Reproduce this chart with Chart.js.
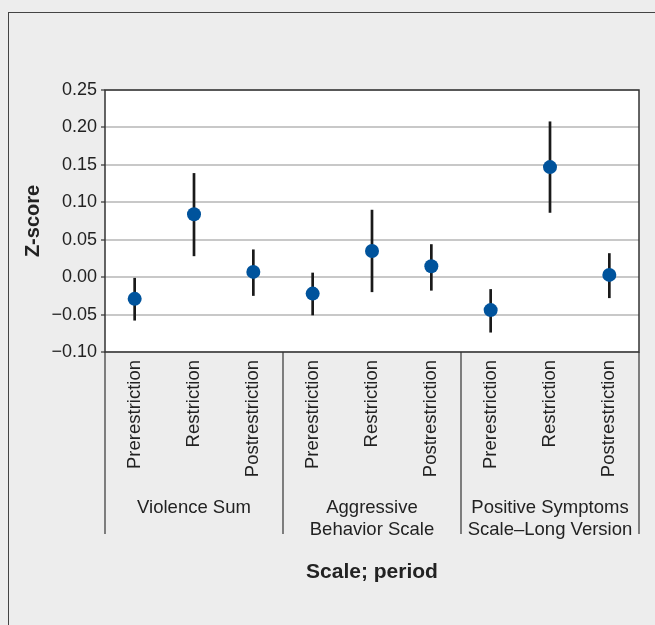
<!DOCTYPE html>
<html lang="en">
<head>
    <meta charset="UTF-8">
    <title>Z-score by scale and period</title>
    <script src="https://cdn.jsdelivr.net/npm/chart.js"></script>
    <style>
        * {
            margin: 0;
            padding: 0;
            box-sizing: border-box;
        }

        body {
            width: 655px;
            height: 625px;
            overflow: hidden;
            background: #ededed;
            font-family: 'Liberation Sans', Arial, sans-serif;
        }

        .frame {
            position: absolute;
            left: 8px;
            top: 12px;
            width: 660px;
            height: 620px;
            border-left: 1px solid #444;
            border-top: 1px solid #444;
        }

        .chart-box {
            position: absolute;
            left: 0;
            top: 0;
            width: 655px;
            height: 625px;
        }
    </style>
</head>
<body>
    <div class="frame"></div>
    <div class="chart-box">
        <canvas id="zChart" width="655" height="625"></canvas>
    </div>

    <script>
        // Data
        const periods = ['Prerestriction', 'Restriction', 'Postrestriction',
                         'Prerestriction', 'Restriction', 'Postrestriction',
                         'Prerestriction', 'Restriction', 'Postrestriction'];
        const scaleGroups = [
            ['Violence Sum'],
            ['Aggressive', 'Behavior Scale'],
            ['Positive Symptoms', 'Scale\u2013Long Version']
        ];
        const zMeans = [-0.029, 0.084, 0.007, -0.022, 0.035, 0.0145, -0.044, 0.147, 0.003];
        const zLower = [-0.058, 0.028, -0.025, -0.051, -0.020, -0.018, -0.074, 0.086, -0.028];
        const zUpper = [-0.001, 0.139, 0.037, 0.006, 0.090, 0.044, -0.016, 0.208, 0.032];
        const yTicks = [0.25, 0.20, 0.15, 0.10, 0.05, 0.00, -0.05, -0.10];

        const textColor = '#222';
        const fontFamily = "'Liberation Sans', Arial, sans-serif";

        // white plot area + frame, error bars, group dividers and names
        const decorPlugin = {
            id: 'decor',
            beforeDraw(chart) {
                const { ctx, chartArea: a } = chart;
                ctx.save();
                ctx.fillStyle = '#fff';
                ctx.fillRect(a.left, a.top, a.right - a.left, a.bottom - a.top);
                ctx.restore();
            },
            beforeDatasetsDraw(chart) {
                const { ctx, chartArea: a, scales: { x, y } } = chart;
                ctx.save();
                // plot frame
                ctx.strokeStyle = '#333';
                ctx.lineWidth = 1.5;
                ctx.strokeRect(a.left, a.top, a.right - a.left, a.bottom - a.top);

                // error bars
                ctx.strokeStyle = '#1a1a1a';
                ctx.lineWidth = 2.7;
                zMeans.forEach((m, i) => {
                    const px = x.getPixelForValue(i);
                    ctx.beginPath();
                    ctx.moveTo(px, y.getPixelForValue(zLower[i]));
                    ctx.lineTo(px, y.getPixelForValue(zUpper[i]));
                    ctx.stroke();
                });

                // group dividers below the axis
                ctx.strokeStyle = '#333';
                ctx.lineWidth = 1.2;
                [-0.5, 2.5, 5.5, 8.5].forEach(v => {
                    const px = Math.round(x.getPixelForValue(v));
                    ctx.beginPath();
                    ctx.moveTo(px, a.bottom);
                    ctx.lineTo(px, 534);
                    ctx.stroke();
                });

                // group names
                ctx.fillStyle = textColor;
                ctx.font = '18.5px ' + fontFamily;
                ctx.textAlign = 'center';
                ctx.textBaseline = 'alphabetic';
                scaleGroups.forEach((lines, g) => {
                    const cx = x.getPixelForValue(g * 3 + 1);
                    lines.forEach((t, k) => ctx.fillText(t, cx, 513 + k * 22));
                });
                ctx.restore();
            }
        };

        const ctx = document.getElementById('zChart').getContext('2d');
        new Chart(ctx, {
            type: 'line',
            data: {
                labels: periods,
                datasets: [{
                    data: zMeans,
                    showLine: false,
                    pointRadius: 7,
                    pointHoverRadius: 7,
                    pointBackgroundColor: '#00539c',
                    pointBorderWidth: 0
                }]
            },
            options: {
                responsive: false,
                animation: false,
                layout: {
                    padding: { top: 90, right: 16, left: 0, bottom: 0 }
                },
                plugins: {
                    legend: { display: false },
                    tooltip: { enabled: false }
                },
                scales: {
                    x: {
                        offset: true,
                        afterFit(scale) { scale.height = 273; },
                        grid: { display: false, drawTicks: false },
                        border: { display: false },
                        ticks: {
                            autoSkip: false,
                            minRotation: 90,
                            maxRotation: 90,
                            padding: 8,
                            color: textColor,
                            font: { family: fontFamily, size: 18.5 }
                        },
                        title: {
                            display: true,
                            text: 'Scale; period',
                            color: textColor,
                            font: { family: fontFamily, size: 21, weight: 'bold' },
                            padding: { top: 0, bottom: 40 }
                        }
                    },
                    y: {
                        min: -0.10,
                        max: 0.25,
                        afterFit(scale) { scale.width = 105; },
                        afterBuildTicks(scale) {
                            scale.ticks = yTicks.map(v => ({ value: v }));
                        },
                        grid: {
                            color: '#c8c8c8',
                            lineWidth: 2,
                            tickColor: '#333',
                            tickWidth: 1.2,
                            tickLength: 4
                        },
                        border: { display: false },
                        ticks: {
                            padding: 4,
                            color: textColor,
                            font: { family: fontFamily, size: 18 },
                            callback: v => (v < 0 ? '\u2212' : '') + Math.abs(v).toFixed(2)
                        },
                        title: {
                            display: true,
                            text: 'Z-score',
                            color: textColor,
                            font: { family: fontFamily, size: 20, weight: 'bold' },
                            padding: { top: 21, bottom: 0 }
                        }
                    }
                }
            },
            plugins: [decorPlugin]
        });
    </script>
</body>
</html>
